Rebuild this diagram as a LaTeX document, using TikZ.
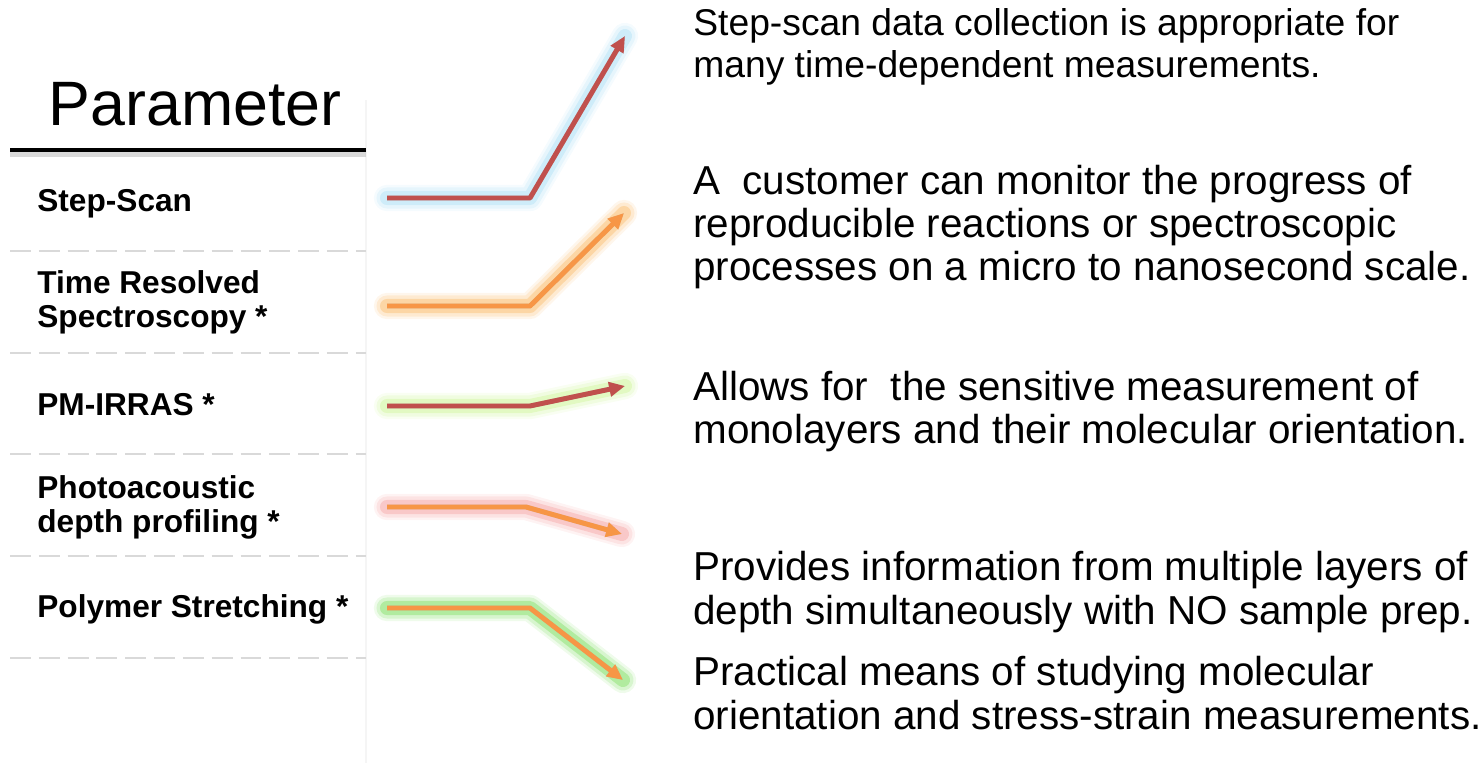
\documentclass[tikz,border=0pt]{standalone}
\usepackage{fontspec}
\setmainfont{Liberation Sans}
\usetikzlibrary{arrows.meta}

\definecolor{arrowred}{RGB}{192,80,77}
\definecolor{arroworange}{RGB}{247,150,70}
\definecolor{glowblue}{RGB}{170,222,245}
\definecolor{gloworange}{RGB}{250,185,100}
\definecolor{glowlime}{RGB}{205,245,150}
\definecolor{glowpink}{RGB}{245,160,160}
\definecolor{glowgreen}{RGB}{120,220,90}
\definecolor{sepgray}{RGB}{217,217,217}

\begin{document}
\begin{tikzpicture}[x=0.02cm, y=-0.02cm,
      title/.style = {font=\fontsize{35.7}{40}\selectfont, anchor=base, inner sep=0},
      param/.style = {font=\bfseries\fontsize{18}{19.9}\selectfont, anchor=base west, inner sep=0, align=left},
      note/.style = {font=\fontsize{21.2}{24}\selectfont, anchor=base west, inner sep=0, align=left},
      widenote/.style = {note, font=\fontsize{23}{24.6}\selectfont},
      sep/.style = {draw=sepgray, line width=1.7pt, dash pattern=on 11.9pt off 4.5pt},
      link/.style = {line width=2.8pt, line join=round, -{Triangle[length=9pt,width=8pt]}}]
    \useasboundingbox (0,0) rectangle (1482,763);

    % table
    \draw[black!4, line width=0.8pt] (366,100) -- (366,763);
    \node[title] (head) at (195,126) {Parameter};
    \draw[black!25, line width=3pt, opacity=0.6] (10,154) -- (366,154);
    \draw[black, line width=2.8pt] (10,150) -- (366,150);
    \foreach \y in {251,353,454,556,658}
      \draw[sep] (10,\y) -- (366,\y);

    % parameters (base = last line)
    \node[param] (p1) at (37,212) {Step-Scan};
    \node[param] (p2) at (37,328) {Time Resolved\\Spectroscopy *};
    \node[param] (p3) at (37,416) {PM-IRRAS *};
    \node[param] (p4) at (37,533) {Photoacoustic\\depth profiling *};
    \node[param] (p5) at (37,618) {Polymer Stretching *};

    % descriptions
    \node[note] (d1) at (693,78) {Step-scan data collection is appropriate for\\many time-dependent measurements.};
    \node[widenote] (d2) at (693,281) {A\ \ customer can monitor the progress of\\reproducible reactions or spectroscopic\\processes on a micro to nanosecond scale.};
    \node[widenote] (d3) at (693,444) {Allows for\ \ the sensitive measurement of\\monolayers and their molecular orientation.};
    \node[widenote] (d4) at (693,624) {Provides information from multiple layers of\\depth simultaneously with NO sample prep.};
    \node[widenote] (d5) at (693,729) {Practical means of studying molecular\\orientation and stress-strain measurements.};

    % arrow points
    \coordinate (s1) at (387,198); \coordinate (b1) at (530,198); \coordinate (e1) at (625,36);
    \coordinate (s2) at (387,306); \coordinate (b2) at (530,306); \coordinate (e2) at (624,213);
    \coordinate (s3) at (387,406); \coordinate (b3) at (530,406); \coordinate (e3) at (625,386);
    \coordinate (s4) at (387,507); \coordinate (b4) at (526,507); \coordinate (e4) at (622,534);
    \coordinate (s5) at (387,608); \coordinate (b5) at (530,608); \coordinate (e5) at (623,680);

    % glowing arrows
    \foreach \i/\c/\g in {1/arrowred/glowblue, 2/arroworange/gloworange, 3/arrowred/glowlime,
                          4/arroworange/glowpink, 5/arroworange/glowgreen} {
      \foreach \w/\o in {15/0.12, 12/0.2, 8/0.4}
        \draw[\g, line width=\w pt, opacity=\o, line cap=round, line join=round] (s\i) -- (b\i) -- (e\i);
      \draw[link, black!40, opacity=0.35, shift={(1.5,2)}] (s\i) -- (b\i) -- (e\i);
      \draw[link, \c] (s\i) -- (b\i) -- (e\i);
    }

  \end{tikzpicture}
\end{document}
